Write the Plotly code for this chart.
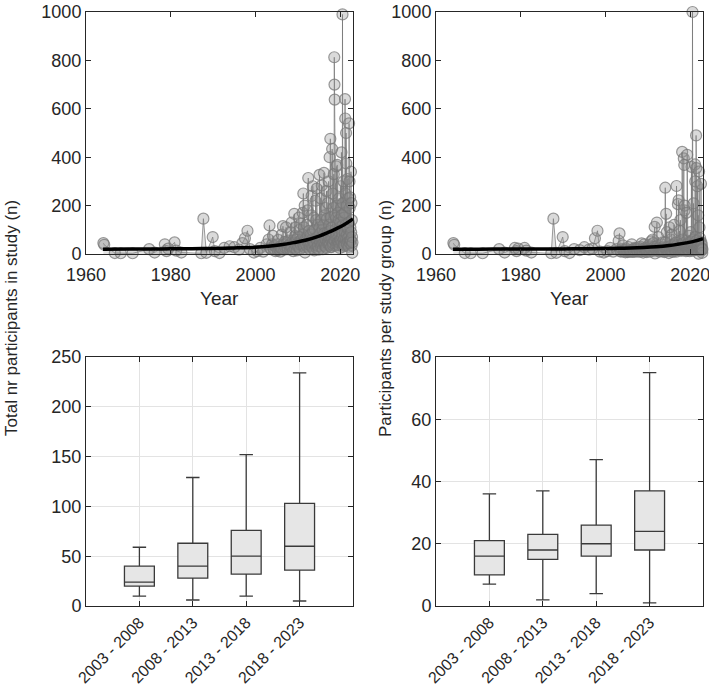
import plotly.graph_objects as go

# ---------------- data ----------------
# study publication year (shared by both top panels), one line per year block
study_year = [
    1964.1, 1964.3, 1966.8, 1968.2, 1971.0, 1974.9, 1976.2, 1978.6, 1979.0, 1979.4,
    1980.9, 1981.3, 1982.5, 1987.2, 1987.7, 1988.4, 1989.9, 1990.4, 1991.5, 1992.6, 1993.9,
    1995.0, 1996.1, 1996.9, 1997.5, 1998.1, 1998.7, 1999.6, 2000.4, 2001.1, 2001.8, 2002.6,
    2003.1, 2003.3, 2003.5, 2003.7, 2003.9,
    2004.1, 2004.3, 2004.5, 2004.7, 2004.9,
    2005.05, 2005.22, 2005.38, 2005.55, 2005.72, 2005.88,
    2006.05, 2006.19, 2006.33, 2006.47, 2006.61, 2006.75, 2006.89,
    2007.05, 2007.19, 2007.33, 2007.47, 2007.61, 2007.75, 2007.89,
    2008.05, 2008.17, 2008.29, 2008.41, 2008.53, 2008.65, 2008.77, 2008.89,
    2009.05, 2009.15, 2009.25, 2009.35, 2009.45, 2009.55, 2009.65, 2009.75, 2009.85,
    2010.04, 2010.13, 2010.22, 2010.31, 2010.4, 2010.49, 2010.58, 2010.67, 2010.76, 2010.85,
    2011.04, 2011.12, 2011.2, 2011.28, 2011.36, 2011.44, 2011.52, 2011.6, 2011.68, 2011.76, 2011.84,
    2012.04, 2012.12, 2012.2, 2012.28, 2012.36, 2012.44, 2012.52, 2012.6, 2012.68, 2012.76, 2012.84, 2012.92,
    2013.03, 2013.1, 2013.17, 2013.24, 2013.31, 2013.38, 2013.45, 2013.52, 2013.59, 2013.66, 2013.73, 2013.8, 2013.87,
    2014.03, 2014.1, 2014.17, 2014.24, 2014.31, 2014.38, 2014.45, 2014.52, 2014.59, 2014.66, 2014.73, 2014.8, 2014.87, 2014.94,
    2015.03, 2015.09, 2015.15, 2015.21, 2015.27, 2015.33, 2015.39, 2015.45, 2015.51, 2015.57, 2015.63, 2015.69, 2015.75, 2015.81, 2015.87,
    2016.03, 2016.09, 2016.15, 2016.21, 2016.27, 2016.33, 2016.39, 2016.45, 2016.51, 2016.57, 2016.63, 2016.69, 2016.75, 2016.81, 2016.87, 2016.93,
    2017.03, 2017.08, 2017.14, 2017.2, 2017.25, 2017.31, 2017.37, 2017.42, 2017.48, 2017.54, 2017.59, 2017.65, 2017.71, 2017.76, 2017.82, 2017.88, 2017.93,
    2018.03, 2018.08, 2018.14, 2018.19, 2018.25, 2018.3, 2018.36, 2018.41, 2018.47, 2018.52, 2018.58, 2018.63, 2018.69, 2018.74, 2018.8, 2018.85, 2018.91, 2018.96,
    2019.02, 2019.07, 2019.12, 2019.17, 2019.22, 2019.27, 2019.32, 2019.37, 2019.42, 2019.47, 2019.52, 2019.57, 2019.62, 2019.67, 2019.72, 2019.77, 2019.82, 2019.87, 2019.92, 2019.97,
    2020.02, 2020.07, 2020.12, 2020.17, 2020.22, 2020.27, 2020.32, 2020.37, 2020.42, 2020.47, 2020.52, 2020.57, 2020.62, 2020.67, 2020.72, 2020.77, 2020.82, 2020.87, 2020.92, 2020.97,
    2021.02, 2021.07, 2021.12, 2021.17, 2021.22, 2021.27, 2021.32, 2021.37, 2021.42, 2021.47, 2021.52, 2021.57, 2021.62, 2021.67, 2021.72, 2021.77, 2021.82, 2021.87, 2021.92, 2021.97,
    2022.02, 2022.07, 2022.12, 2022.17, 2022.22, 2022.27, 2022.32, 2022.37, 2022.42, 2022.47, 2022.52, 2022.57, 2022.62, 2022.67, 2022.72, 2022.77, 2022.82, 2022.87,
]

# total number of participants in each study
n_total = [
    45, 38, 4, 3, 3, 20, 6, 40, 12, 22,
    48, 14, 6, 3, 146, 5, 70, 12, 4, 25, 32,
    28, 18, 45, 65, 96, 20, 6, 12, 25, 10, 40,
    60, 118, 24, 20, 40,
    75, 22, 35, 12, 28,
    40, 15, 58, 22, 30, 10,
    24, 80, 20, 115, 38, 18, 50,
    25, 110, 45, 30, 20, 55, 35,
    40, 20, 90, 28, 130, 30, 55, 12,
    45, 166, 25, 75, 110, 35, 60, 15, 40,
    70, 30, 150, 50, 100, 20, 45, 38, 125, 60,
    45, 170, 80, 250, 35, 110, 28, 200, 6, 60, 40,
    55, 120, 30, 180, 75, 314, 40, 95, 48, 20, 65, 35,
    80, 45, 160, 240, 60, 32, 25, 280, 95, 50, 150, 38, 15,
    100, 40, 220, 65, 140, 25, 270, 55, 48, 32, 120, 35, 75, 18,
    60, 327, 110, 45, 85, 50, 230, 30, 140, 70, 283, 55, 40, 100, 20,
    120, 50, 335, 85, 160, 35, 65, 42, 60, 190, 30, 25, 260, 75, 145, 45,
    90, 210, 55, 48, 300, 70, 120, 40, 400, 38, 95, 476, 60, 152, 28, 30, 65,
    110, 434, 65, 250, 36, 45, 190, 85, 330, 58, 813, 700, 638, 160, 55, 100, 70, 35,
    150, 362, 80, 200, 40, 368, 62, 125, 50, 170, 95, 36, 50, 140, 230, 75, 45, 25, 110, 58,
    130, 280, 60, 190, 100, 420, 45, 160, 70, 85, 990, 120, 30, 210, 55, 300, 40, 150, 65, 35,
    170, 90, 640, 560, 250, 120, 60, 500, 374, 45, 200, 80, 38, 310, 105, 65, 110, 230, 50, 30,
    130, 540, 75, 300, 190, 45, 234, 110, 60, 55, 340, 90, 210, 35, 140, 70, 5, 48,
]

# participants per study group
n_group = [
    45, 38, 4, 3, 3, 20, 6, 25, 12, 22,
    25, 14, 6, 3, 146, 5, 70, 12, 4, 20, 16,
    28, 18, 22, 65, 96, 10, 6, 12, 25, 10, 20,
    55, 85, 12, 10, 20,
    36, 11, 18, 7, 14,
    20, 8, 29, 11, 15, 10,
    12, 40, 10, 18, 19, 9, 25,
    13, 21, 22, 15, 10, 27, 17,
    20, 10, 30, 14, 44, 15, 18, 6,
    22, 40, 12, 25, 18, 17, 20, 8, 16,
    23, 15, 37, 18, 30, 10, 22, 19, 52, 20,
    15, 60, 20, 45, 17, 28, 14, 112, 2, 21, 18,
    18, 130, 15, 35, 19, 70, 16, 24, 22, 10, 21, 17,
    20, 16, 40, 23, 19, 15, 12, 48, 22, 18, 30, 16, 8,
    25, 274, 50, 19, 166, 12, 90, 20, 18, 16, 30, 16, 22, 4,
    20, 110, 26, 17, 23, 18, 60, 14, 35, 21, 80, 19, 16, 25, 9,
    30, 18, 120, 22, 40, 15, 20, 17, 21, 47, 16, 10, 281, 22, 36, 17,
    24, 206, 19, 17, 222, 20, 28, 16, 95, 18, 25, 140, 21, 38, 14, 15, 20,
    26, 422, 20, 60, 16, 18, 45, 22, 395, 19, 368, 180, 200, 35, 17, 28, 21, 12,
    30, 170, 22, 55, 18, 410, 24, 40, 20, 45, 28, 18, 21, 36, 75, 25, 19, 12, 33, 24,
    28, 90, 23, 50, 30, 360, 19, 38, 22, 25, 1000, 34, 14, 60, 20, 209, 18, 42, 24, 16,
    40, 25, 370, 300, 70, 36, 22, 490, 355, 19, 55, 24, 18, 280, 30, 23, 32, 160, 21, 1,
    35, 341, 24, 110, 50, 18, 65, 30, 22, 20, 290, 26, 48, 15, 37, 23, 5, 19,
]

# exponential trend lines
fit_year = [1964, 1970, 1975, 1980, 1985, 1990, 1995, 2000, 2003, 2006, 2009, 2012, 2015, 2017, 2019, 2021, 2023]
fit_total = [20, 20.3, 20.7, 21.2, 22, 23, 25, 28, 32, 38, 47, 58, 74, 88, 104, 122, 145]
fit_group = [20, 20.1, 20.2, 20.4, 20.6, 21, 21.5, 22.5, 23.5, 25, 27, 30, 35, 40, 46, 53, 63]

# box plot statistics per period
periods = ["2003 - 2008", "2008 - 2013", "2013 - 2018", "2018 - 2023"]
period_pos = [1, 2, 3, 4]
tot_low = [10, 6, 10, 5]
tot_q1 = [20, 28, 32, 36]
tot_med = [24, 40, 50, 60]
tot_q3 = [40, 63, 76, 103]
tot_high = [59, 129, 152, 234]
grp_low = [7, 2, 4, 1]
grp_q1 = [10, 15, 16, 18]
grp_med = [16, 18, 20, 24]
grp_q3 = [21, 23, 26, 37]
grp_high = [36, 37, 47, 75]

if not (len(study_year) == len(n_total) == len(n_group)):
    raise ValueError(f"length mismatch {len(study_year)} {len(n_total)} {len(n_group)}")

# ---------------- figure ----------------
W, H = 709, 690
FONT = "Arial, Liberation Sans, Helvetica, sans-serif"
TXT = "#262626"

fig = go.Figure()


def scatter_panel(yvals, fit_vals, xa, ya):
    fig.add_trace(go.Scatter(
        x=study_year, y=yvals, mode="lines", fill="tozeroy",
        fillcolor="rgba(205,205,205,0.55)",
        line=dict(color="rgba(110,110,110,0.85)", width=0.8),
        xaxis=xa, yaxis=ya, showlegend=False, hoverinfo="skip"))
    fig.add_trace(go.Scatter(
        x=study_year, y=yvals, mode="markers",
        marker=dict(size=11, color="rgba(140,140,140,0.32)",
                    line=dict(color="rgba(120,120,120,0.75)", width=1.2)),
        cliponaxis=False, xaxis=xa, yaxis=ya, showlegend=False))
    fig.add_trace(go.Scatter(
        x=fit_year, y=fit_vals, mode="lines", line_shape="spline",
        line=dict(color="black", width=3.5),
        xaxis=xa, yaxis=ya, showlegend=False))


scatter_panel(n_total, fit_total, "x", "y")
scatter_panel(n_group, fit_group, "x2", "y2")


def box_panel(low, q1, med, q3, high, xa, ya):
    fig.add_trace(go.Box(
        x=period_pos, q1=q1, median=med, q3=q3, lowerfence=low, upperfence=high,
        width=0.56, whiskerwidth=0.45, fillcolor="#e6e6e6",
        line=dict(color="#3a3a3a", width=1.3), boxpoints=False,
        xaxis=xa, yaxis=ya, showlegend=False))


box_panel(tot_low, tot_q1, tot_med, tot_q3, tot_high, "x3", "y3")
box_panel(grp_low, grp_q1, grp_med, grp_q3, grp_high, "x4", "y4")


def px_dom(a, b, total):
    return [a / total, b / total]


def py_dom(top, bottom):
    return [(H - bottom) / H, (H - top) / H]


common = dict(showline=True, linecolor=TXT, linewidth=1, mirror="allticks",
              ticks="inside", ticklen=5, tickcolor=TXT, zeroline=False,
              automargin=False, ticklabeloverflow="allow",
              tickfont=dict(family=FONT, size=18, color=TXT))
cat_font = dict(family=FONT, size=16, color=TXT)

left_dom = px_dom(86, 353, W)
right_dom = px_dom(436, 703, W)
top_dom = py_dom(12, 254)
bot_dom = py_dom(357, 606)

common_cat = {k: v for k, v in common.items() if k != "tickfont"}

fig.update_layout(
    width=W, height=H, margin=dict(l=0, r=0, t=0, b=0, autoexpand=False),
    paper_bgcolor="white", plot_bgcolor="white",
    font=dict(family=FONT, color=TXT),
    xaxis=dict(domain=left_dom, anchor="y", range=[1960, 2023],
               tickvals=[1960, 1980, 2000, 2020], showgrid=False,
               ticklabelstandoff=4, **common),
    yaxis=dict(domain=top_dom, anchor="x", range=[0, 1000], dtick=200,
               showgrid=False, **common),
    xaxis2=dict(domain=right_dom, anchor="y2", range=[1960, 2023],
                tickvals=[1960, 1980, 2000, 2020], showgrid=False,
                ticklabelstandoff=4, **common),
    yaxis2=dict(domain=top_dom, anchor="x2", range=[0, 1000], dtick=200,
                showgrid=False, **common),
    xaxis3=dict(domain=left_dom, anchor="y3", range=[0, 5], tickvals=period_pos,
                ticktext=periods, tickangle=-45, showgrid=True,
                gridcolor="#e3e3e3", tickfont=cat_font, **common_cat),
    yaxis3=dict(domain=bot_dom, anchor="x3", range=[0, 250], dtick=50,
                showgrid=True, gridcolor="#e3e3e3", **common),
    xaxis4=dict(domain=right_dom, anchor="y4", range=[0, 5], tickvals=period_pos,
                ticktext=periods, tickangle=-45, showgrid=True,
                gridcolor="#e3e3e3", tickfont=cat_font, **common_cat),
    yaxis4=dict(domain=bot_dom, anchor="x4", range=[0, 80], dtick=20,
                showgrid=True, gridcolor="#e3e3e3", **common),
)

ann_font = dict(family=FONT, size=19, color=TXT)
fig.add_annotation(text="Year", xref="paper", yref="paper",
                   x=(86 + 353) / 2 / W, y=(H - 298) / H, showarrow=False,
                   font=ann_font, xanchor="center", yanchor="middle")
fig.add_annotation(text="Year", xref="paper", yref="paper",
                   x=(436 + 703) / 2 / W, y=(H - 298) / H, showarrow=False,
                   font=ann_font, xanchor="center", yanchor="middle")
fig.add_annotation(text="Total nr participants in study (n)", xref="paper", yref="paper",
                   x=11 / W, y=(H - 318) / H, showarrow=False, textangle=-90,
                   font=dict(family=FONT, size=17, color=TXT),
                   xanchor="center", yanchor="middle")
fig.add_annotation(text="Participants per study group (n)", xref="paper", yref="paper",
                   x=385 / W, y=(H - 319) / H, showarrow=False, textangle=-90,
                   font=dict(family=FONT, size=17, color=TXT),
                   xanchor="center", yanchor="middle")

fig.write_html("out.html")
